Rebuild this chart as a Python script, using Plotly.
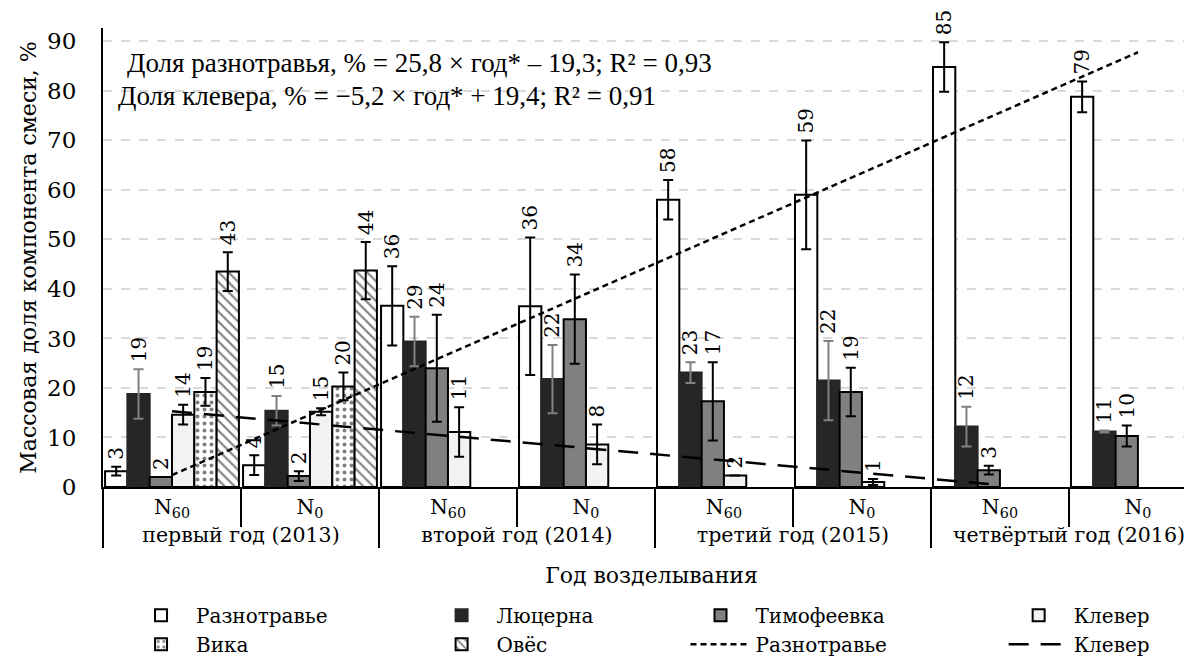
import plotly.graph_objects as go

# ---------------- data ----------------
years = ["первый год (2013)", "второй год (2014)", "третий год (2015)", "четвёртый год (2016)"]
doses = ["N<sub>60</sub>", "N<sub>0</sub>"]

series_names = ["Разнотравье", "Люцерна", "Тимофеевка", "Клевер", "Вика", "Овёс"]

raz_vals = [3.2, 4.4, 36.6, 36.5, 58.0, 59.0, 84.8, 78.8]
raz_err = [0.9, 2.0, 8.0, 13.9, 4.0, 11.0, 5.0, 3.1]
raz_lbl = ["3", "4", "36", "36", "58", "59", "85", "79"]

luc_vals = [18.8, 15.4, 29.4, 21.8, 23.1, 21.5, 12.2, 11.2]
luc_err = [5.0, 3.0, 5.0, 6.9, 2.1, 8.0, 4.0, 0.2]
luc_lbl = ["19", "15", "29", "22", "23", "22", "12", "11"]

tim_vals = [2.0, 2.2, 24.0, 33.9, 17.3, 19.2, 3.4, 10.3]
tim_err = [0.0, 1.0, 10.8, 9.0, 7.9, 4.9, 0.9, 2.1]
tim_lbl = ["2", "2", "24", "34", "17", "19", "3", "10"]

klev_vals = [14.6, 15.2, 11.1, 8.6, 2.3, 1.0, None, None]
klev_err = [2.0, 0.7, 5.0, 4.0, 0.0, 0.6, None, None]
klev_lbl = ["14", "15", "11", "8", "2", "1", None, None]

vika_vals = [19.2, 20.3, None, None, None, None, None, None]
vika_err = [2.8, 2.8, None, None, None, None, None, None]
vika_lbl = ["19", "20", None, None, None, None, None, None]

oves_vals = [43.5, 43.7, None, None, None, None, None, None]
oves_err = [3.9, 5.8, None, None, None, None, None, None]
oves_lbl = ["43", "44", None, None, None, None, None, None]

# trend line end points
trend_raz_y = [2.4, 87.8]
trend_klev_y = [15.3, 0.4]

eq_raz = "Доля разнотравья, % = 25,8 × год* – 19,3; R² = 0,93"
eq_klev = "Доля клевера, % = −5,2 × год* + 19,4; R² = 0,91"

# ---------------- figure ----------------
SERIF = "Liberation Serif"
DV = "DejaVu Serif"
x_year = [y for y in years for _ in doses]
x_dose = [d for _ in years for d in doses]

styles = [
    dict(color="white", line=dict(color="black", width=2)),
    dict(color="#262626", line=dict(color="#262626", width=2)),
    dict(color="#808080", line=dict(color="black", width=2)),
    dict(color="#f2f2f2", line=dict(color="black", width=2)),
    dict(color="white", line=dict(color="black", width=2),
         pattern=dict(shape=".", fgcolor="black", bgcolor="white", size=7, solidity=0.25)),
    dict(color="white", line=dict(color="black", width=2),
         pattern=dict(shape="\\", fgcolor="black", bgcolor="white", size=7, solidity=0.3)),
]
err_colors = ["black", "#808080", "black", "black", "black", "black"]
# legend column of each bar series (4 columns, 2 rows)
bar_legends = ["legend", "legend2", "legend3", "legend4", "legend", "legend2"]

vals_all = [raz_vals, luc_vals, tim_vals, klev_vals, vika_vals, oves_vals]
errs_all = [raz_err, luc_err, tim_err, klev_err, vika_err, oves_err]
lbls_all = [raz_lbl, luc_lbl, tim_lbl, klev_lbl, vika_lbl, oves_lbl]

fig = go.Figure()
for i, name in enumerate(series_names):
    fig.add_trace(go.Bar(
        x=[x_year, x_dose], y=vals_all[i], name=name, offsetgroup=str(i),
        marker=styles[i], legend=bar_legends[i],
        error_y=dict(type="data", array=[e if e is not None else 0 for e in errs_all[i]],
                     color=err_colors[i], thickness=2, width=5, visible=True),
        showlegend=True,
    ))

for i, name in enumerate(series_names):
    idx = [k for k, v in enumerate(vals_all[i]) if v is not None]
    bases = [vals_all[i][k] + (errs_all[i][k] or 0) + 0.8 for k in idx]
    fig.add_trace(go.Bar(
        x=[[x_year[k] for k in idx], [x_dose[k] for k in idx]],
        y=[0.01] * len(idx), base=bases,
        offsetgroup=str(i), text=[lbls_all[i][k] for k in idx],
        textposition="outside", textangle=-90,
        constraintext="none", cliponaxis=False,
        textfont=dict(family=DV, size=20, color="black"),
        marker=dict(color="rgba(0,0,0,0)", line=dict(width=0)),
        showlegend=False, hoverinfo="skip",
    ))

fig.add_trace(go.Scatter(
    x=[[years[0], years[3]], [doses[0], doses[1]]], y=trend_raz_y, mode="lines",
    name="Разнотравье", legend="legend3",
    line=dict(color="black", width=2.5, dash="6px,4px"),
))
fig.add_trace(go.Scatter(
    x=[[years[0], years[3]], [doses[0], doses[0]]], y=trend_klev_y, mode="lines",
    name="Клевер", legend="legend4",
    line=dict(color="black", width=2.5, dash="20px,12px"),
))

fig.add_annotation(x=0.020, y=0.924, xref="paper", yref="paper", xanchor="left", yanchor="middle",
                   text=eq_raz, showarrow=False, font=dict(family=SERIF, size=27, color="black"))
fig.add_annotation(x=0.012, y=0.852, xref="paper", yref="paper", xanchor="left", yanchor="middle",
                   text=eq_klev, showarrow=False, font=dict(family=SERIF, size=27, color="black"))

leg_common = dict(orientation="v", yanchor="bottom", xanchor="left", y=-0.385,
                  font=dict(family=DV, size=20, color="black"), itemwidth=60,
                  bgcolor="rgba(0,0,0,0)", traceorder="normal", tracegroupgap=0)
fig.update_layout(
    width=1192, height=658,
    margin=dict(l=95, r=0, t=20, b=179),
    paper_bgcolor="white", plot_bgcolor="white",
    font=dict(family=DV, size=22, color="black"),
    barmode="group", bargap=0.03, bargroupgap=0,
    legend=dict(x=0.021, **leg_common),
    legend2=dict(x=0.295, **leg_common),
    legend3=dict(x=0.531, **leg_common),
    legend4=dict(x=0.821, **leg_common),
    xaxis=dict(type="multicategory", range=[-0.5, 7.45],
               showline=True, linecolor="black", linewidth=2,
               ticks="outside", tickson="boundaries", ticklen=38, tickcolor="black", tickwidth=2,
               showdividers=True, dividercolor="black", dividerwidth=2,
               tickfont=dict(family=DV, size=20.5, color="black"),
               title=dict(text="Год возделывания", font=dict(family=DV, size=22, color="black"),
                          standoff=22),
               showgrid=False, automargin=False),
    yaxis=dict(range=[0, 92.7], dtick=10, showgrid=True, gridcolor="#d9d9d9", griddash="dash",
               gridwidth=1.5, showline=True, linecolor="black", linewidth=2, zeroline=False,
               ticks="", ticklabelstandoff=20, automargin=False,
               tickfont=dict(family=DV, size=23, color="black"),
               title=dict(text="Массовая доля компонента смеси, %",
                          font=dict(family=DV, size=22, color="black"), standoff=4)),
)

fig.write_html("out.html")
